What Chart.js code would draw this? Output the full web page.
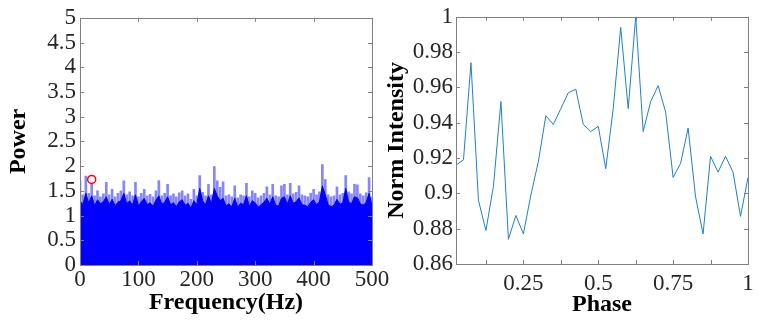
<!DOCTYPE html>
<html>
<head>
<meta charset="utf-8">
<script src="https://cdn.jsdelivr.net/npm/chart.js@4.4.1/dist/chart.umd.min.js"></script>
<style>
  html, body { margin: 0; padding: 0; background: #fff; }
  #wrap { position: relative; width: 763px; height: 326px; overflow: hidden; }
  #wrap canvas { position: absolute; top: 0; }
</style>
</head>
<body>
<div id="wrap">
  <canvas id="powerPlot" width="400" height="326" style="left:0"></canvas>
  <canvas id="phasePlot" width="383" height="326" style="left:380px"></canvas>
</div>
<script>
// Left panel: periodogram (spike tops + dense core), sampled every 5 Hz
const freqs = [0,5,10,15,20,25,30,35,40,45,50,55,60,65,70,75,80,85,90,95,
  100,105,110,115,120,125,130,135,140,145,150,155,160,165,170,175,180,185,190,195,
  200,205,210,215,220,225,230,235,240,245,250,255,260,265,270,275,280,285,290,295,
  300,305,310,315,320,325,330,335,340,345,350,355,360,365,370,375,380,385,390,395,
  400,405,410,415,420,425,430,435,440,445,450,455,460,465,470,475,480,485,490,495,500];
const powerPeaks = [1.70,1.42,1.80,1.45,1.63,1.40,1.50,1.38,1.44,1.67,
  1.42,1.53,1.38,1.45,1.50,1.70,1.42,1.48,1.40,1.67,
  1.38,1.45,1.53,1.40,1.43,1.38,1.50,1.71,1.40,1.45,
  1.63,1.40,1.44,1.38,1.46,1.50,1.40,1.44,1.33,1.53,
  1.40,1.81,1.47,1.40,1.63,1.42,1.99,1.70,1.57,1.68,
  1.40,1.42,1.38,1.60,1.36,1.42,1.40,1.65,1.38,1.50,
  1.45,1.36,1.40,1.45,1.58,1.42,1.63,1.40,1.38,1.60,
  1.63,1.42,1.65,1.44,1.47,1.60,1.42,1.40,1.38,1.45,
  1.53,1.42,1.48,2.03,1.73,1.42,1.38,1.40,1.58,1.42,
  1.45,1.81,1.48,1.44,1.63,1.62,1.44,1.40,1.46,1.77,1.38];
const powerCore = [1.30,1.22,1.45,1.25,1.40,1.20,1.32,1.24,1.28,1.38,
  1.22,1.33,1.20,1.27,1.30,1.45,1.24,1.30,1.21,1.42,
  1.20,1.28,1.35,1.22,1.26,1.19,1.31,1.40,1.23,1.27,
  1.38,1.22,1.26,1.18,1.28,1.32,1.21,1.25,1.15,1.30,
  1.22,1.55,1.30,1.22,1.40,1.24,1.55,1.40,1.30,1.35,
  1.20,1.24,1.18,1.35,1.17,1.25,1.22,1.40,1.19,1.30,
  1.26,1.17,1.22,1.27,1.35,1.23,1.38,1.21,1.19,1.35,
  1.38,1.23,1.40,1.25,1.28,1.36,1.22,1.21,1.18,1.27,
  1.32,1.22,1.28,1.60,1.42,1.22,1.18,1.21,1.33,1.23,
  1.26,1.55,1.28,1.24,1.38,1.36,1.24,1.21,1.27,1.45,1.20];
const peakFreq = 20;
const peakPower = 1.73;
const freqTicks = [0,100,200,300,400,500];
const powerTicks = [0,0.5,1,1.5,2,2.5,3,3.5,4,4.5,5];

// Right panel: folded light curve
const phases = [0.025,0.05,0.075,0.1,0.125,0.15,0.175,0.2,0.225,0.25,
  0.275,0.3,0.325,0.35,0.375,0.4,0.425,0.45,0.475,0.5,
  0.525,0.55,0.575,0.6,0.625,0.65,0.675,0.7,0.725,0.75,
  0.775,0.8,0.825,0.85,0.875,0.9,0.925,0.95,0.975,1];
const intensity = [0.916,0.919,0.974,0.896,0.879,0.904,0.952,0.874,0.8875,0.877,
  0.899,0.918,0.944,0.939,0.948,0.957,0.959,0.939,0.935,0.938,
  0.914,0.948,0.994,0.948,1.0,0.935,0.952,0.961,0.946,0.909,
  0.917,0.937,0.898,0.877,0.921,0.912,0.921,0.912,0.887,0.909];
const phaseTicks = [0.125,0.25,0.375,0.5,0.625,0.75,0.875,1];
const intensityTicks = [0.86,0.88,0.9,0.92,0.94,0.96,0.98,1];

const tickFont = { family: 'Liberation Serif', size: 23 };
const titleFont = { family: 'Liberation Serif', size: 24, weight: 'bold' };
const fmt = v => String(Number(v.toFixed(3)));

// MATLAB-style box with inward tick marks on all four sides
const boxTicks = {
  id: 'boxTicks',
  afterDraw(chart) {
    const { ctx, chartArea: a, scales: { x, y } } = chart;
    ctx.save();
    ctx.strokeStyle = '#808080';
    ctx.lineWidth = 1;
    ctx.beginPath();
    x.ticks.forEach(t => {
      const px = Math.round(x.getPixelForValue(t.value)) + 0.5;
      ctx.moveTo(px, a.bottom); ctx.lineTo(px, a.bottom - 4);
      ctx.moveTo(px, a.top); ctx.lineTo(px, a.top + 4);
    });
    y.ticks.forEach(t => {
      const py = Math.round(y.getPixelForValue(t.value)) + 0.5;
      ctx.moveTo(a.left, py); ctx.lineTo(a.left + 4, py);
      ctx.moveTo(a.right, py); ctx.lineTo(a.right - 4, py);
    });
    ctx.stroke();
    ctx.strokeRect(Math.round(a.left) + 0.5, Math.round(a.top) + 0.5,
      Math.round(a.width), Math.round(a.height));
    ctx.restore();
  }
};

function axis(extra) {
  return Object.assign({
    type: 'linear',
    offset: false,
    grid: { display: false, drawTicks: false, offset: false },
    border: { display: false },
  }, extra);
}

new Chart(document.getElementById('powerPlot'), {
  type: 'line',
  data: {
    datasets: [
      {
        type: 'scatter',
        data: [{ x: peakFreq, y: peakPower }],
        pointRadius: 4,
        pointBorderColor: '#ff0000',
        pointBackgroundColor: 'rgba(0,0,0,0)',
        pointBorderWidth: 1.5,
        showLine: false
      },
      {
        data: freqs.map((f, i) => ({ x: f, y: powerCore[i] })),
        borderColor: '#0000ff',
        backgroundColor: '#0000ff',
        borderWidth: 1,
        pointRadius: 0,
        fill: 'origin'
      },
      {
        type: 'bar',
        data: freqs.map((f, i) => ({ x: f, y: powerPeaks[i] })),
        backgroundColor: '#8585ff',
        barThickness: 2,
        borderWidth: 0
      }
    ]
  },
  options: {
    responsive: false,
    animation: false,
    layout: { padding: { left: 0, right: 28, top: 15, bottom: 5 } },
    plugins: { legend: { display: false }, tooltip: { enabled: false } },
    scales: {
      x: axis({
        min: 0, max: 500,
        afterBuildTicks: s => { s.ticks = freqTicks.map(v => ({ value: v })); },
        afterFit: s => { s.height = 56; },
        ticks: { font: tickFont, color: '#262626', padding: 1, maxRotation: 0, autoSkip: false, callback: fmt },
        title: { display: true, text: 'Frequency(Hz)', font: titleFont, color: '#000', padding: { top: 0, bottom: 4 } }
      }),
      y: axis({
        min: 0, max: 5,
        afterBuildTicks: s => { s.ticks = powerTicks.map(v => ({ value: v })); },
        afterFit: s => { s.width = 80; },
        ticks: { font: tickFont, color: '#262626', padding: 4, autoSkip: false, callback: fmt },
        title: { display: true, text: 'Power', font: titleFont, color: '#000', padding: { top: 4, bottom: 0 } }
      })
    }
  },
  plugins: [boxTicks]
});

new Chart(document.getElementById('phasePlot'), {
  type: 'line',
  data: {
    datasets: [{
      data: phases.map((p, i) => ({ x: p, y: intensity[i] })),
      borderColor: '#1f80c8',
      borderWidth: 1,
      pointRadius: 0,
      tension: 0,
      fill: false
    }]
  },
  options: {
    responsive: false,
    animation: false,
    layout: { padding: { left: 0, right: 15, top: 14, bottom: 5 } },
    plugins: { legend: { display: false }, tooltip: { enabled: false } },
    scales: {
      x: axis({
        min: 0.025, max: 1,
        afterBuildTicks: s => { s.ticks = phaseTicks.map(v => ({ value: v })); },
        afterFit: s => { s.height = 57; },
        ticks: {
          font: tickFont, color: '#262626', padding: 6, maxRotation: 0, autoSkip: false,
          callback: v => (Math.abs(v * 4 - Math.round(v * 4)) < 1e-6 ? fmt(v) : '')
        },
        title: { display: true, text: 'Phase', font: titleFont, color: '#000', padding: { top: 0, bottom: 2 } }
      }),
      y: axis({
        min: 0.86, max: 1,
        afterBuildTicks: s => { s.ticks = intensityTicks.map(v => ({ value: v })); },
        afterFit: s => { s.width = 76; },
        ticks: { font: tickFont, color: '#262626', padding: 3, autoSkip: false, callback: fmt },
        title: { display: true, text: 'Norm Intensity', font: titleFont, color: '#000', padding: { top: 2, bottom: 0 } }
      })
    }
  },
  plugins: [boxTicks]
});
</script>
</body>
</html>
